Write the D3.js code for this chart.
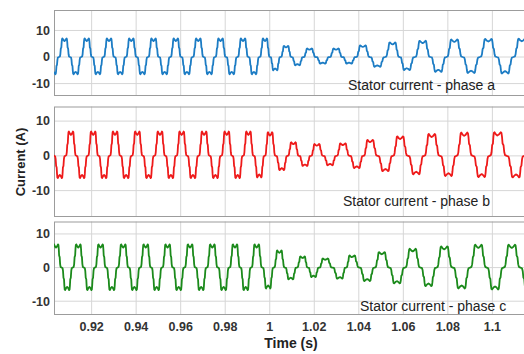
<!DOCTYPE html>
<html>
<head>
<meta charset="utf-8">
<script src="https://cdn.jsdelivr.net/npm/d3@7/dist/d3.min.js"></script>
<style>
  body { margin: 0; background: #fff; }
  svg { display: block; }
  text { font-family: "Liberation Sans", Arial, sans-serif; }
</style>
</head>
<body>
<div id="chart"></div>
<script>
// ---- data ----
var xTicks = [0.92, 0.94, 0.96, 0.98, 1, 1.02, 1.04, 1.06, 1.08, 1.1];
var xTickLabels = ["0.92", "0.94", "0.96", "0.98", "1", "1.02", "1.04", "1.06", "1.08", "1.1"];
var yTicks = [-10, 0, 10];
var panelLabels = ["Stator current - phase a", "Stator current - phase b", "Stator current - phase c"];
var phaseColors = ["#1c7cc4", "#ee1a1a", "#1b8a1b"];

// one half cycle of the stepped waveform, peak centre -> trough centre (phase 0..0.5, normalised level)
var shape = [[0, 0.86], [0.04, 0.9], [0.09, 1.0], [0.11, 0.97], [0.125, 0.8], [0.14, 0.52],
             [0.165, 0.45], [0.185, 0.15], [0.205, 0.03], [0.25, 0], [0.295, -0.03], [0.315, -0.15],
             [0.335, -0.45], [0.36, -0.52], [0.375, -0.8], [0.39, -0.97], [0.41, -1.0],
             [0.46, -0.9], [0.5, -0.86]];

// phase a
var peakTimesA = [0.8978, 0.9078, 0.9178, 0.9278, 0.9378, 0.9478, 0.9578, 0.9679, 0.9779, 0.9880, 0.9979,
                  1.0073, 1.0178, 1.0298, 1.0418, 1.0552, 1.0687, 1.0829, 1.0982, 1.1132];
var peakValsA = [7.0, 7.0, 7.0, 7.0, 7.0, 7.0, 7.0, 7.0, 7.0, 7.0, 7.0,
                 4.2, 3.2, 3.2, 4.4, 5.5, 6.1, 6.6, 6.8, 6.9];
var troughTimesA = [0.9028, 0.9128, 0.9228, 0.9328, 0.9428, 0.9528, 0.9628, 0.9729, 0.9829, 0.9929,
                    1.0024, 1.0124, 1.0238, 1.0356, 1.0483, 1.0615, 1.0757, 1.0904, 1.1057, 1.1210];
var troughValsA = [-6.5, -6.5, -6.5, -6.5, -6.5, -6.5, -6.5, -6.5, -6.5, -6.5,
                   -5.0, -3.1, -2.5, -2.5, -3.7, -4.9, -5.6, -6.0, -6.2, -6.4];

// phase b
var peakTimesB = [0.9007, 0.9107, 0.9207, 0.9305, 0.9405, 0.9507, 0.9604, 0.9705, 0.9807, 0.9904,
                  1.0001, 1.0106, 1.0211, 1.0328, 1.0450, 1.0585, 1.0727, 1.0873, 1.1022, 1.1178];
var peakValsB = [7.0, 7.0, 7.0, 7.0, 7.0, 7.0, 7.0, 7.0, 7.0, 7.0,
                 6.8, 3.9, 3.4, 3.6, 4.6, 5.6, 6.3, 6.7, 6.8, 6.9];
var troughTimesB = [0.9057, 0.9157, 0.9256, 0.9355, 0.9456, 0.9556, 0.9655, 0.9756, 0.9856, 0.9953,
                    1.0054, 1.0158, 1.0271, 1.0391, 1.0520, 1.0658, 1.0803, 1.0952, 1.1107];
var troughValsB = [-6.4, -6.4, -6.4, -6.4, -6.4, -6.4, -6.4, -6.4, -6.4, -6.2,
                   -4.1, -2.9, -2.7, -3.5, -4.4, -5.3, -5.8, -6.1, -6.2];

// phase c
var peakTimesC = [0.9040, 0.9140, 0.9240, 0.9342, 0.9443, 0.9541, 0.9642, 0.9742, 0.9844, 0.9941,
                  1.0043, 1.0148, 1.0248, 1.0368, 1.0503, 1.0642, 1.0783, 1.0937, 1.1087];
var peakValsC = [6.9, 6.9, 6.9, 6.9, 6.9, 6.9, 6.9, 6.9, 6.9, 6.9,
                 5.1, 3.3, 2.7, 3.6, 4.6, 5.6, 6.3, 6.8, 6.8];
var troughTimesC = [0.8990, 0.9090, 0.9190, 0.9291, 0.9392, 0.9492, 0.9591, 0.9692, 0.9793, 0.9892,
                    0.9993, 1.0094, 1.0196, 1.0316, 1.0438, 1.0571, 1.0713, 1.0862, 1.1012, 1.1165];
var troughValsC = [-6.7, -6.7, -6.7, -6.7, -6.7, -6.7, -6.7, -6.7, -6.7, -6.7,
                   -6.2, -3.5, -2.8, -3.3, -4.0, -4.7, -5.5, -6.2, -6.5, -6.6];

// ---- layout ----
var W = 524, H = 354;
var left = 54, right = 524;
var panels = [
  { top: 10,    bottom: 95,  yMin: -14.3, yMax: 17.7, label: panelLabels[0], lx: 348, ly: 90,
    peaks: [peakTimesA, peakValsA], troughs: [troughTimesA, troughValsA], color: phaseColors[0] },
  { top: 106.5, bottom: 216, yMin: -17.3, yMax: 14.2, label: panelLabels[1], lx: 343, ly: 206,
    peaks: [peakTimesB, peakValsB], troughs: [troughTimesB, troughValsB], color: phaseColors[1] },
  { top: 221.5, bottom: 314, yMin: -13.8, yMax: 13.7, label: panelLabels[2], lx: 360, ly: 311,
    peaks: [peakTimesC, peakValsC], troughs: [troughTimesC, troughValsC], color: phaseColors[2] }
];

var x = d3.scaleLinear().domain([0.9031, 1.1142]).range([left, right]);

var svg = d3.select("#chart").append("svg")
    .attr("width", W)
    .attr("height", H);

// turn the read extremes into a polyline using the half-cycle shape
function buildWave(p) {
  var ext = [];
  p.peaks[0].forEach(function(t, i) { ext.push({ t: t, v: p.peaks[1][i], peak: true }); });
  p.troughs[0].forEach(function(t, i) { ext.push({ t: t, v: p.troughs[1][i], peak: false }); });
  ext.sort(function(a, b) { return a.t - b.t; });
  var pts = [];
  for (var i = 0; i < ext.length - 1; i++) {
    var e0 = ext[i], e1 = ext[i + 1];
    var P = e0.peak ? e0.v : e1.v, T = e0.peak ? e1.v : e0.v;
    shape.forEach(function(k, j) {
      if (i > 0 && j === 0) return;
      var f = e0.peak ? k[0] / 0.5 : (0.5 - shape[shape.length - 1 - j][0]) / 0.5;
      var s = e0.peak ? k[1] : shape[shape.length - 1 - j][1];
      pts.push([e0.t + f * (e1.t - e0.t), s >= 0 ? s * P : -s * T]);
    });
  }
  return pts;
}

panels.forEach(function(p, pi) {
  var y = d3.scaleLinear().domain([p.yMin, p.yMax]).range([p.bottom, p.top]);
  var g = svg.append("g");

  g.append("clipPath").attr("id", "clip" + pi)
    .append("rect")
      .attr("x", left).attr("y", p.top)
      .attr("width", right - left).attr("height", p.bottom - p.top);

  // grid
  g.selectAll(".vgrid").data(xTicks).enter().append("line")
      .attr("x1", function(d) { return x(d); })
      .attr("x2", function(d) { return x(d); })
      .attr("y1", p.top).attr("y2", p.bottom)
      .attr("stroke", "#d6d6d6").attr("stroke-width", 1);
  g.selectAll(".hgrid").data(yTicks).enter().append("line")
      .attr("x1", left).attr("x2", right)
      .attr("y1", function(d) { return y(d); })
      .attr("y2", function(d) { return y(d); })
      .attr("stroke", "#d6d6d6").attr("stroke-width", 1);

  // frame
  g.append("rect")
      .attr("x", left + 0.5).attr("y", p.top + 0.5)
      .attr("width", right - left + 2).attr("height", p.bottom - p.top)
      .attr("fill", "none").attr("stroke", "#9c9c9c").attr("stroke-width", 1);

  // y tick labels
  g.selectAll(".ylab").data(yTicks).enter().append("text")
      .attr("x", left - 4)
      .attr("y", function(d) { return y(d); })
      .attr("dy", "0.35em")
      .attr("text-anchor", "end")
      .style("font-size", "12.5px").style("font-weight", "bold").style("fill", "#333")
      .text(function(d) { return d; });

  // waveform
  var line = d3.line()
      .x(function(d) { return x(d[0]); })
      .y(function(d) { return y(d[1]); });
  g.append("path")
      .datum(buildWave(p))
      .attr("clip-path", "url(#clip" + pi + ")")
      .attr("d", line)
      .attr("fill", "none")
      .attr("stroke", p.color)
      .attr("stroke-width", 1.8)
      .attr("stroke-linejoin", "round");

  // panel label
  g.append("text")
      .attr("x", p.lx).attr("y", p.ly)
      .style("font-size", "14px").style("fill", "#222")
      .text(p.label);
});

// x tick labels under the bottom panel
svg.selectAll(".xlab").data(xTicks).enter().append("text")
    .attr("x", function(d) { return x(d); })
    .attr("y", 331)
    .attr("text-anchor", "middle")
    .style("font-size", "12.5px").style("font-weight", "bold").style("fill", "#333")
    .text(function(d, i) { return xTickLabels[i]; });

// axis titles
svg.append("text")
    .attr("x", 291).attr("y", 348)
    .attr("text-anchor", "middle")
    .style("font-size", "14px").style("font-weight", "bold").style("fill", "#222")
    .text("Time (s)");

svg.append("text")
    .attr("transform", "translate(25,162) rotate(-90)")
    .attr("text-anchor", "middle")
    .style("font-size", "13px").style("font-weight", "bold").style("fill", "#222")
    .text("Current (A)");
</script>
</body>
</html>
